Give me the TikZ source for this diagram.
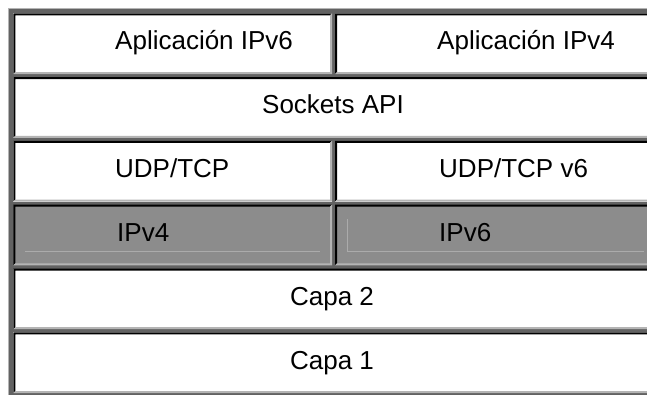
\documentclass[tikz,border=0pt]{standalone}
\usepackage{fontspec}
\setsansfont{Liberation Sans}
\usepackage{xcolor}
\usepackage{tikz}
\usetikzlibrary{positioning, calc}
\definecolor{edgelight}{HTML}{B4B4B4}
\definecolor{tablegrey}{HTML}{626262}
\definecolor{celledge}{HTML}{000000}
\definecolor{ipgrey}{HTML}{8C8C8C}
\definecolor{bevelline}{HTML}{ABABAB}
% one table cell: #1,#2 = top left, #3,#4 = bottom right, #5 = fill
\newcommand{\drawCell}[5]{%
  \fill[#5] (#1,#2) rectangle (#3,#4);
  \fill[celledge] (#1,#2) -- (#3,#2) -- ({#3-2},{#2+2}) -- ({#1+2},{#2+2})
        -- ({#1+2},{#4-2}) -- (#1,#4) -- cycle;
  \fill[edgelight] (#3,#4) -- (#1,#4) -- ({#1+2},{#4-2}) -- ({#3-2},{#4-2})
        -- ({#3-2},{#2+2}) -- (#3,#2) -- cycle;
}

\begin{document}
\begin{tikzpicture}[x=1pt, y=-1pt, font=\sffamily\fontsize{26}{30}\selectfont,
  layer/.style={anchor=base, inner sep=0pt},
  layerleft/.style={anchor=base west, inner sep=0pt}]
  % picture is in image pixels, y going down; the table runs off the right edge
  \useasboundingbox (0,0) rectangle (647,394);
  \clip (0,0) rectangle (647,394);
  \fill[white] (0,0) rectangle (647,394);

  % ===== table frame =====
  \fill[edgelight] (7.5,7.5) rectangle (660,400);
  \fill[tablegrey] (9.3,9.3) rectangle (660,400);

  % ===== cells, row by row =====
  \drawCell{13.3}{13.3}{332}{74}{white}
  \drawCell{335}{13.3}{660}{74}{white}
  \drawCell{13.3}{77.1}{660}{137.8}{white}
  \drawCell{13.3}{140.9}{332}{201.6}{white}
  \drawCell{335}{140.9}{660}{201.6}{white}
  \drawCell{13.3}{204.7}{332}{265.4}{ipgrey}
  \drawCell{335}{204.7}{660}{265.4}{ipgrey}
  \drawCell{13.3}{268.5}{660}{329.2}{white}
  \drawCell{13.3}{332.3}{660}{393}{white}

  % thin bevel lines inside the IP cells
  \draw[bevelline, line width=0.8pt] (25,251.7) -- (320,251.7);
  \draw[bevelline, line width=0.8pt] (347.7,219) -- (347.7,251.7) -- (644,251.7);

  % ===== labels =====
  \node[layerleft] (appv6) at (115,49.5) {Aplicación IPv6};
  \node[layerleft] (appv4) at (437,49.5) {Aplicación IPv4};
  \node[layer] (sockets) at (333,113.5) {Sockets API};
  \node[layerleft] (udptcp) at (115,177.5) {UDP/TCP};
  \node[layerleft] (udptcp6) at (439,177.5) {UDP/TCP v6};
  \node[layerleft] (ipv4) at (117,241.5) {IPv4};
  \node[layerleft] (ipv6) at (439,241.5) {IPv6};
  \node[layer] (capa2) at (332,305.5) {Capa 2};
  \node[layer] (capa1) at (332,369.5) {Capa 1};
\end{tikzpicture}
\end{document}
